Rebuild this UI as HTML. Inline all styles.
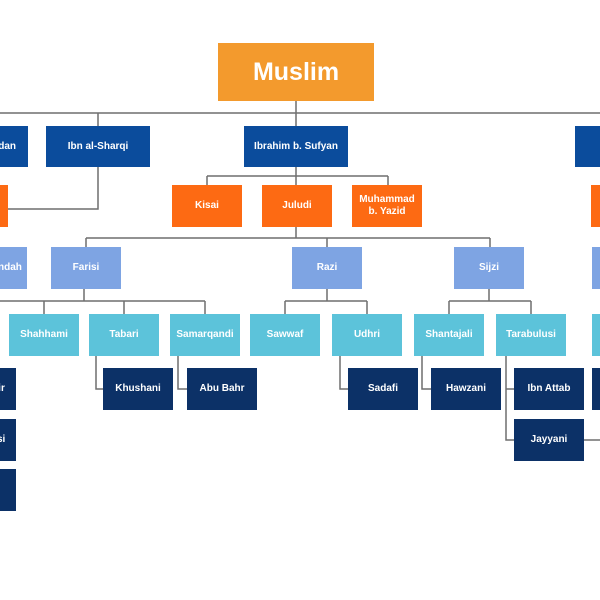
<!DOCTYPE html>
<html><head><meta charset="utf-8"><style>
html,body{margin:0;padding:0;background:#fff;}
#c{position:relative;width:600px;height:600px;overflow:hidden;background:#fff;font-family:"Liberation Sans",Arial,sans-serif;}
.b{position:absolute;display:flex;align-items:center;justify-content:center;text-align:center;color:#fff;font-weight:bold;font-size:10px;line-height:12px;white-space:nowrap;}
.d{background:#0b4c9c;}
.o{background:#fd6a13;}
.l{background:#7ea4e3;}
.c{background:#5cc3da;}
.n{background:#0c3167;}
svg{position:absolute;left:0;top:0;}
</style></head><body><div id="c">
<svg width="600" height="600">
<g stroke="#6f6f6f" stroke-width="1.5" fill="none">
<path d="M0 113H600M296 101V126M98 113V126"/>
<path d="M98 167V209H8"/>
<path d="M296 167V185M207 176H388M207 176V185M388 176V185"/>
<path d="M296 227V238M86 238H490M86 238V247M327 238V247M490 238V247"/>
<path d="M84 289V301M0 301H205M44 301V314M124 301V314M205 301V314"/>
<path d="M327 289V301M285 301H367M285 301V314M367 301V314"/>
<path d="M489 289V301M449 301H531M449 301V314M531 301V314"/>
<path d="M96 356V389H103M178 356V389H187M340 356V389H348M422 356V389H431"/>
<path d="M506 356V440H514M506 389H514M584 440H600"/>
</g>
</svg>
<div class="b" style="left:218px;top:43px;width:156px;height:58px;background:#f39a2d;font-size:25px;line-height:28px;">Muslim</div>

<div class="b d" style="left:-76px;top:126px;width:104px;height:41px;justify-content:flex-end;"><span style="margin-right:12px">Ibn Hamdan</span></div>
<div class="b d" style="left:46px;top:126px;width:104px;height:41px;">Ibn al-Sharqi</div>
<div class="b d" style="left:244px;top:126px;width:104px;height:41px;">Ibrahim b. Sufyan</div>
<div class="b d" style="left:575px;top:126px;width:104px;height:41px;"></div>

<div class="b o" style="left:-62px;top:185px;width:70px;height:42px;"></div>
<div class="b o" style="left:172px;top:185px;width:70px;height:42px;">Kisai</div>
<div class="b o" style="left:262px;top:185px;width:70px;height:42px;">Juludi</div>
<div class="b o" style="left:352px;top:185px;width:70px;height:42px;">Muhammad<br>b. Yazid</div>
<div class="b o" style="left:591px;top:185px;width:70px;height:42px;"></div>

<div class="b l" style="left:-43px;top:247px;width:70px;height:42px;"><span style="margin-left:22px">Mandah</span></div>
<div class="b l" style="left:51px;top:247px;width:70px;height:42px;">Farisi</div>
<div class="b l" style="left:292px;top:247px;width:70px;height:42px;">Razi</div>
<div class="b l" style="left:454px;top:247px;width:70px;height:42px;">Sijzi</div>
<div class="b l" style="left:592px;top:247px;width:70px;height:42px;"></div>

<div class="b c" style="left:9px;top:314px;width:70px;height:42px;">Shahhami</div>
<div class="b c" style="left:89px;top:314px;width:70px;height:42px;">Tabari</div>
<div class="b c" style="left:170px;top:314px;width:70px;height:42px;">Samarqandi</div>
<div class="b c" style="left:250px;top:314px;width:70px;height:42px;">Sawwaf</div>
<div class="b c" style="left:332px;top:314px;width:70px;height:42px;">Udhri</div>
<div class="b c" style="left:414px;top:314px;width:70px;height:42px;">Shantajali</div>
<div class="b c" style="left:496px;top:314px;width:70px;height:42px;">Tarabulusi</div>
<div class="b c" style="left:592px;top:314px;width:70px;height:42px;"></div>

<div class="b n" style="left:-54px;top:368px;width:70px;height:42px;"><span style="margin-left:24px">Tahir</span></div>
<div class="b n" style="left:-54px;top:419px;width:70px;height:42px;"><span style="margin-left:22px">Farisi</span></div>
<div class="b n" style="left:-54px;top:469px;width:70px;height:42px;"></div>
<div class="b n" style="left:103px;top:368px;width:70px;height:42px;">Khushani</div>
<div class="b n" style="left:187px;top:368px;width:70px;height:42px;">Abu Bahr</div>
<div class="b n" style="left:348px;top:368px;width:70px;height:42px;">Sadafi</div>
<div class="b n" style="left:431px;top:368px;width:70px;height:42px;">Hawzani</div>
<div class="b n" style="left:514px;top:368px;width:70px;height:42px;">Ibn Attab</div>
<div class="b n" style="left:514px;top:419px;width:70px;height:42px;">Jayyani</div>
<div class="b n" style="left:592px;top:368px;width:70px;height:42px;"></div>
</div></body></html>
